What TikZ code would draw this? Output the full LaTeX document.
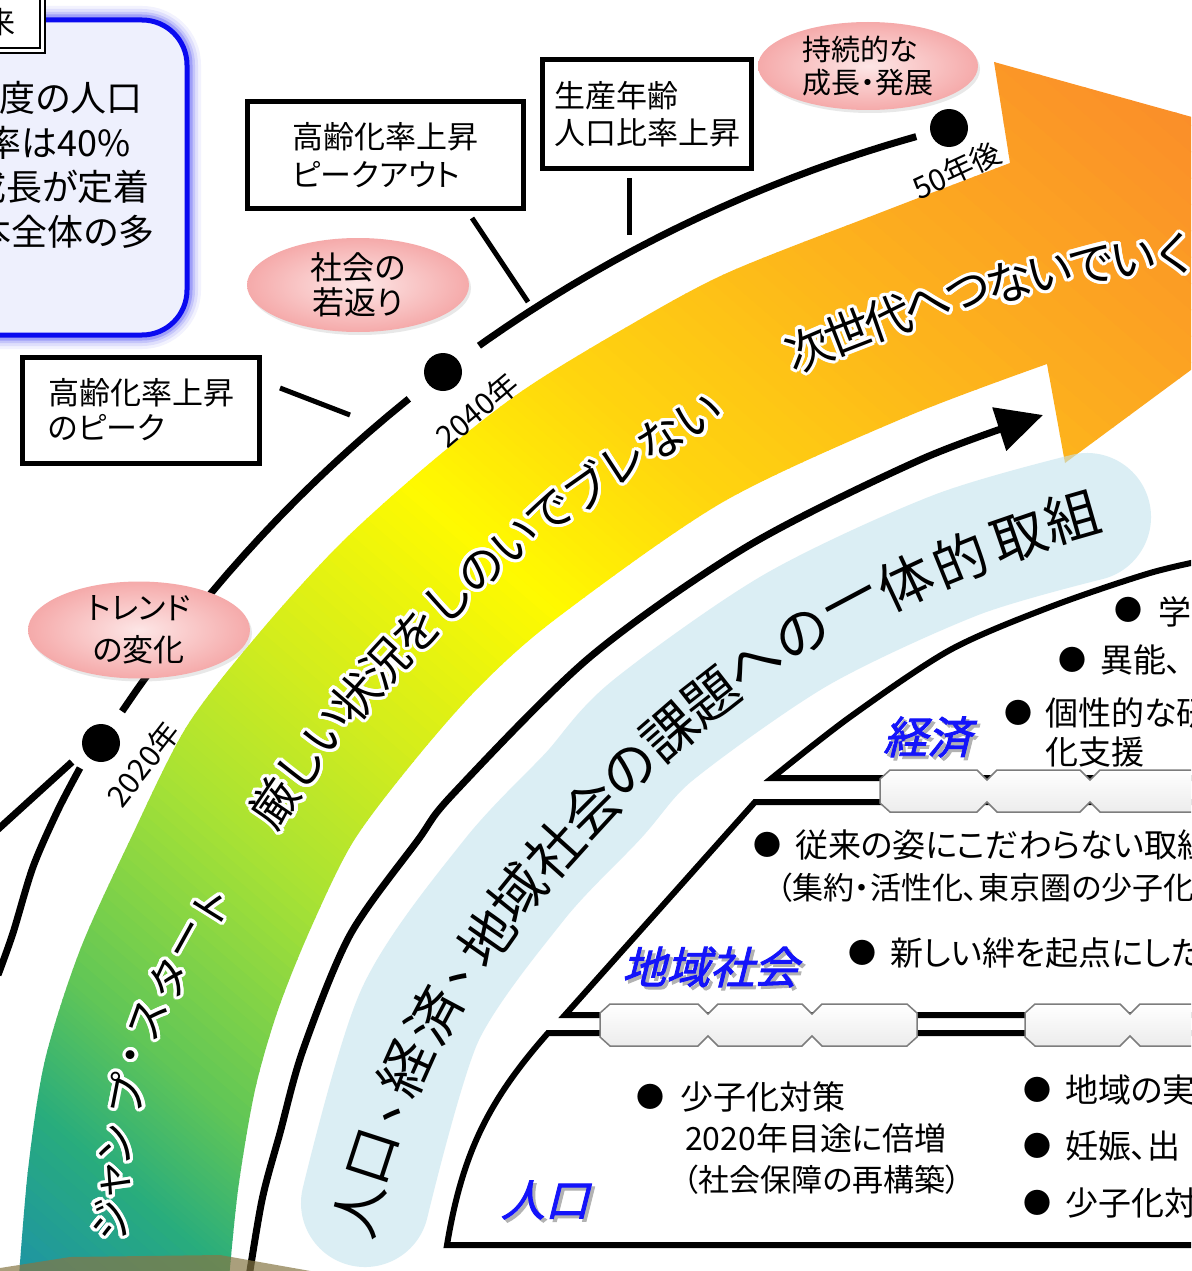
\documentclass[tikz,border=0pt]{standalone}
\usepackage{fontspec}
\setmainfont[RawFeature=+palt]{Noto Sans CJK JP}
\newfontfamily\jpfull{Noto Sans CJK JP}
\newfontfamily\lblfont[FakeSlant=0.25,FakeBold=2]{Noto Sans CJK JP}
\usepackage{contour}
\contourlength{3.2pt}
\contournumber{24}
\usetikzlibrary{arrows.meta,shapes.geometric,shadows}
\definecolor{boxblue}{RGB}{10,10,240}
\definecolor{boxfill}{RGB}{238,240,253}
\definecolor{pinkin}{RGB}{253,230,230}
\definecolor{pinkout}{RGB}{245,170,170}
\definecolor{lblue}{RGB}{195,227,237}
\definecolor{lblblue}{RGB}{20,20,250}
\definecolor{hexgray}{RGB}{125,125,125}
\definecolor{olivec}{RGB}{134,119,69}
\definecolor{gA}{RGB}{25,135,185}
\definecolor{gB}{RGB}{40,172,125}
\definecolor{gC}{RGB}{95,197,88}
\definecolor{gD}{RGB}{168,226,52}
\definecolor{gE}{RGB}{208,236,30}
\definecolor{gF}{RGB}{255,250,0}
\definecolor{gG}{RGB}{255,214,14}
\definecolor{gH}{RGB}{253,180,28}
\definecolor{gI}{RGB}{250,136,44}
\tikzset{
  every node/.style={inner sep=0pt, outer sep=0pt},
  tline/.style={line width=7pt},
  conn/.style={line width=5pt},
  tbox/.style={draw, line width=5pt, fill=white, align=left},
  pinkell/.style={ellipse, shade, inner color=pinkin, outer color=pinkout,
     drop shadow={opacity=0.18, shadow xshift=2pt, shadow yshift=-3pt}},
  yearlbl/.style={font=\fontsize{30}{30}\selectfont},
  tdot/.style={circle, fill=black, minimum size=38pt},
  bandch/.style={font=\jpfull\fontsize{47}{47}\selectfont},
  jumpch/.style={font=\jpfull\fontsize{42}{42}\selectfont},
  bluech/.style={font=\jpfull\fontsize{55}{55}\selectfont},
  panel/.style={draw, line width=6pt, fill=white},
  hexbar/.style={draw=hexgray, line width=1.5pt, top color=white, bottom color=gray!15},
  bul/.style={font=\fontsize{28}{28}\selectfont},
  ptxt/.style={font=\fontsize{33}{33}\selectfont, anchor=west},
  lbl/.style={font=\lblfont\fontsize{44}{44}\selectfont, text=lblblue},
  lblsh/.style={font=\lblfont\fontsize{44}{44}\selectfont, text=black!30},
}
\begin{document}
\begin{tikzpicture}[x=1pt,y=-1pt]
\useasboundingbox (0,0) rectangle (1191,1271);
\fill[white] (0,0) rectangle (1191,1271);
\clip (0,0) rectangle (1191,1271);

% ---------- top-left blue box ----------
\foreach \w/\o in {28/0.05,22/0.08,16/0.12,11/0.2}{
  \draw[boxblue, line width=\w pt, opacity=\o, rounded corners=45pt] (-60,20) rectangle (187,335);
}
\draw[boxblue, line width=5pt, fill=boxfill, rounded corners=45pt] (-60,20) rectangle (187,335);
\begin{scope}[every node/.style={anchor=east, font=\fontsize{36}{36}\selectfont}]
\node (bx1) at (146,98) {度の人口};
\node (bx2) at (134,143) {率は40\%};
\node (bx3) at (153,187) {成長が定着};
\node (bx4) at (158,232) {本全体の多};
\end{scope}
\draw[line width=1.5pt, fill=white] (-60,-20) rectangle (45,53);
\draw[line width=2.5pt, fill=white] (-60,-20) rectangle (40,48);
\node[font=\fontsize{30}{30}\selectfont] (kbox) at (1,22) {来};

% ---------- timeline ----------
\draw[tline] plot[domain=146.03:128.9, samples=50, variable=\t] ({1303+1424*cos(\t)},{1507-1424*sin(\t)});
\draw[tline] plot[domain=125.36:105.76, samples=50, variable=\t] ({1303+1424*cos(\t)},{1507-1424*sin(\t)});
\draw[tline] (72,762) -- (-5,832);
\draw[tline] plot[smooth] coordinates {(80,768) (58,810) (33,867) (13,933) (-2,975)};
\node[tdot] (d2020) at (101,743) {};
\node[tdot] (d2040) at (443,372) {};
\node[tdot] (d50) at (949,128) {};

% ---------- boxes and connectors ----------
\node[tbox, minimum width=276pt, minimum height=106pt, font=\fontsize{31}{38}\selectfont] (boxB) at (385,155) {高齢化率上昇\\ピークアウト};
\node[tbox, minimum width=209pt, minimum height=108pt, font=\fontsize{31}{37}\selectfont] (boxS) at (647,114) {生産年齢\\人口比率上昇};
\node[tbox, minimum width=237pt, minimum height=106pt, font=\fontsize{31}{35}\selectfont] (boxP) at (141,410) {高齢化率上昇\\のピーク};
\coordinate (cB1) at (472,218); \coordinate (cB2) at (528,302);
\coordinate (cS1) at (629,178); \coordinate (cS2) at (629,235);
\coordinate (cP1) at (280,388); \coordinate (cP2) at (350,415);
\draw[conn] (cB1) -- (cB2);
\draw[conn] (cS1) -- (cS2);
\draw[conn] (cP1) -- (cP2);

% ---------- pink ellipses ----------
\node[pinkell, minimum width=220pt, minimum height=88pt, font=\fontsize{29}{33}\selectfont, align=left] (e50) at (868,66) {持続的な\\成長・発展};
\node[pinkell, minimum width=222pt, minimum height=94pt, font=\fontsize{32}{35}\selectfont, align=center] (eyoung) at (358,285) {社会の\\若返り};
\node[pinkell, minimum width=222pt, minimum height=96pt, font=\fontsize{31}{42}\selectfont, align=center] (etrend) at (139,630) {トレンド\\の変化};

% ---------- gradient arrow band ----------
\begin{scope}
\clip plot[smooth] coordinates {(18,1290) (28,1170) (45,1060) (80,950) (130,840) (187,726) (260,632) (340,544) (430,463) (522,391) (625,328) (727,273) (882,212) (1010,163)}
  -- (994,62) -- (1440,186) -- (1065,463)
  -- plot[smooth] coordinates {(1047,364) (906,417) (723,502) (557,618) (480,686) (414,761) (353,842) (310,930) (278,1010) (255,1090) (238,1190) (228,1290)} -- cycle;
\begin{scope}[shift={(130,1271)}, rotate=49.4]
\foreach \ta/\tb/\ca/\cb in {-150/60/gA/gB, 60/180/gB/gC, 180/400/gC/gD, 400/560/gD/gE, 560/780/gE/gF, 780/960/gF/gG, 960/1220/gG/gH, 1220/1620/gH/gI}{
  \foreach \k in {0,...,19}{
    \pgfmathsetmacro\sa{\ta+(\tb-\ta)*\k/20}
    \pgfmathsetmacro\sb{\ta+(\tb-\ta)*(\k+1)/20+0.8}
    \pgfmathsetmacro\pp{100-100*(\k+0.5)/20}
    \fill[\ca!\pp!\cb] (\sa,-1600) -- (\sb,-1600) -- (\sb,1600) -- (\sa,1600) -- cycle;
  }
}
\end{scope}
\end{scope}

% year labels
\node[yearlbl, rotate=52] (l2020) at (143,764) {2020年};
\node[yearlbl, rotate=40] (l2040) at (477,410) {2040年};
\node[yearlbl, rotate=25] (l50) at (957,170) {50年後};

% texts on the band
\foreach \c/\x/\y/\r [count=\i] in {ジ/112/1220/84, ャ/118/1182/83, ン/118/1145/82, プ/128/1095/79, ・/138/1057/75, ス/150/1020/70, タ/170/979/65, ー/192/942/61, ト/213/908/58}{
  \node[jumpch, rotate=\r] (js\i) at (\x,\y) {\contour{white}{\c}};
}
\foreach \c [count=\i from 0] in {厳,し,い,状,況,を,し,の,い,で,ブ,レ,な,い}{
  \pgfmathsetmacro\th{145.6-2.05*\i}
  \pgfmathsetmacro\px{1303+1245*cos(\th)}
  \pgfmathsetmacro\py{1507-1245*sin(\th)}
  \pgfmathsetmacro\rt{\th-90}
  \node[bandch, rotate=\rt] (ks\i) at (\px,\py) {\contour{white}{\c}};
}
\foreach \c [count=\i from 0] in {次,世,代,へ,つ,な,い,で,い,く}{
  \pgfmathsetmacro\th{113.1-1.92*\i}
  \pgfmathsetmacro\px{1303+1258*cos(\th)}
  \pgfmathsetmacro\py{1507-1258*sin(\th)}
  \pgfmathsetmacro\rt{\th-90}
  \node[bandch, rotate=\rt] (ns\i) at (\px,\py) {\contour{white}{\c}};
}

% ---------- inner black arrow ----------
\draw[line width=7pt, -{Triangle[length=46pt,width=44pt]}] plot[smooth] coordinates {(247,1290) (262,1200) (280,1133) (303,1050) (350,935) (418,840) (453,794) (590,657) (748,546) (922,459) (1043,415)};

% ---------- bottom olive strip ----------
\fill[olivec, opacity=0.7] (0,1268) -- (70,1257) -- (220,1255) -- (333,1275) -- (0,1275) -- cycle;

% ---------- light blue band ----------
\draw[lblue, opacity=0.6, line width=128pt, line cap=round] plot[smooth] coordinates {(1087,517) (956,555) (796,630) (652,731) (593,796) (514,880) (420,1015) (365,1203)};
\foreach \c/\x/\y/\r [count=\i] in {人/358/1210/76, 口/373/1157/72, 、/398/1099/69, 経/406/1068/66, 済/434/1016/62, 、/467/964/58, 地/487/938/55, 域/518/893/51, 社/554/850/48, 会/591/809/45, の/630/770/43, 課/670/732/41, 題/711/697/38, へ/755/665/35, の/802/634/31, 一/853/607/28, 体/906/582/25, 的/960/559/22, 取/1019/537/19, 組/1072/517/16}{
  \node[bluech, rotate=\r] (bs\i) at (\x,\y) {\c};
}

% ---------- panels ----------
\draw[panel] (772,778) -- plot[smooth] coordinates {(772,778) (850,717) (950,650) (1050,607) (1150,573) (1215,558)} -- (1215,778) -- cycle;
\draw[panel] (565,1015) -- (755,802) -- (1215,802) -- (1215,1015) -- cycle;
\draw[panel] (447,1245) to[bend left=16] (548,1033) -- (1215,1033) -- (1215,1245) -- cycle;

% hex bars
\draw[hexbar] (880,779) -- (890,770) -- (977,770) -- (987,780) -- (997,770) -- (1080,770) -- (1090,780) -- (1100,770) -- (1215,770) -- (1215,812) -- (1100,812) -- (1090,802) -- (1080,812) -- (997,812) -- (987,802) -- (977,812) -- (890,812) -- (880,803) -- cycle;
\draw[hexbar] (600,1013) -- (610,1004) -- (698,1004) -- (708,1014) -- (718,1004) -- (802,1004) -- (812,1014) -- (822,1004) -- (907,1004) -- (917,1013) -- (917,1037) -- (907,1046) -- (822,1046) -- (812,1036) -- (802,1046) -- (718,1046) -- (708,1036) -- (698,1046) -- (610,1046) -- (600,1037) -- cycle;
\draw[hexbar] (1025,1013) -- (1035,1004) -- (1120,1004) -- (1130,1014) -- (1140,1004) -- (1215,1004) -- (1215,1046) -- (1140,1046) -- (1130,1036) -- (1120,1046) -- (1035,1046) -- (1025,1037) -- cycle;

% panel texts: economy
\node[bul] (k1b) at (1128,610) {●};
\node[ptxt] (k1) at (1158,612) {学};
\node[bul] (k2b) at (1072,660) {●};
\node[ptxt] (k2) at (1100,660) {異能、};
\node[bul] (k3b) at (1018,713) {●};
\node[ptxt] (k3) at (1045,713) {個性的な研};
\node[ptxt] (k3c) at (1045,752) {化支援};
\node[lblsh] (lblKs) at (930,740) {経済};
\node[lbl] (lblK) at (927,737) {経済};

% regional society
\node[bul] (r1b) at (767,845) {●};
\node[ptxt] (r1) at (795,845) {従来の姿にこだわらない取組};
\node[ptxt, font=\fontsize{31}{31}\selectfont] (r1c) at (777,888) {（集約・活性化、東京圏の少子化};
\node[bul] (r2b) at (862,953) {●};
\node[ptxt] (r2) at (890,953) {新しい絆を起点にした};
\node[lblsh] (lblRs) at (713,970) {地域社会};
\node[lbl] (lblR) at (710,967) {地域社会};

% population
\node[bul] (p1b) at (650,1097) {●};
\node[ptxt] (p1) at (680,1097) {少子化対策};
\node[ptxt, font=\fontsize{32}{32}\selectfont] (p1c) at (685,1138) {2020年目途に倍増};
\node[ptxt, font=\fontsize{31}{31}\selectfont] (p1d) at (683,1180) {（社会保障の再構築）};
\node[bul] (p2b) at (1037,1090) {●};
\node[ptxt] (p2) at (1065,1090) {地域の実};
\node[bul] (p3b) at (1037,1146) {●};
\node[ptxt] (p3) at (1065,1146) {妊娠、出};
\node[bul] (p4b) at (1037,1203) {●};
\node[ptxt] (p4) at (1065,1203) {少子化対};
\node[lblsh] (lblPs) at (548,1203) {人口};
\node[lbl] (lblP) at (545,1200) {人口};
\end{tikzpicture}
\end{document}
